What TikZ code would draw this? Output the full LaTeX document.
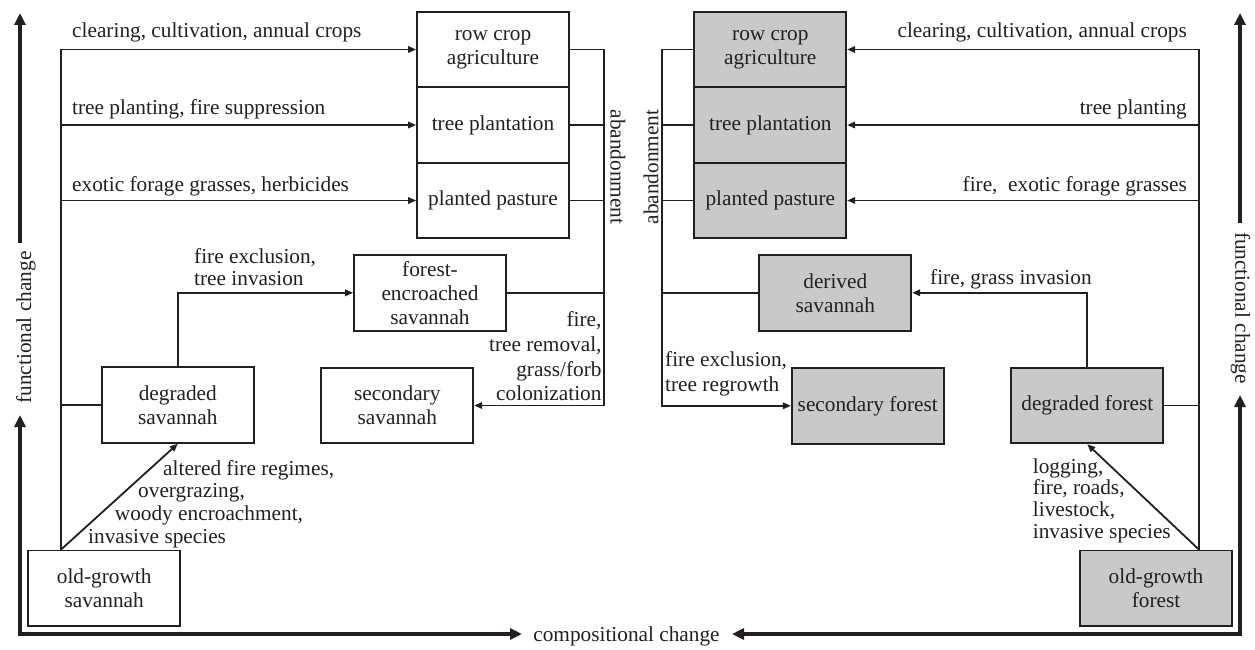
\documentclass[tikz,border=0pt]{standalone}
\usepackage{fontspec}
\setmainfont{Liberation Serif}
\usetikzlibrary{arrows.meta}
\definecolor{ink}{RGB}{35,31,32}
\definecolor{boxgray}{RGB}{200,201,203}
\begin{document}
\begin{tikzpicture}[x=1pt,y=-1pt,
  every node/.style={text=ink},
  font=\fontsize{21.3pt}{24pt}\selectfont,
  box/.style={draw=ink, line width=1.8pt, minimum width=152pt, minimum height=75.6pt, inner sep=0pt, align=center},
  gbox/.style={box, fill=boxgray},
  conn/.style={draw=ink, line width=1.8pt, line join=miter},
  arr/.style={conn, -{Triangle[length=8pt,width=6.5pt]}},
  axis/.style={draw=ink, line width=3.2pt, line join=miter},
  bigtip/.style={-{Triangle[length=12pt,width=11pt]}},
  lbl/.style={inner sep=0pt},
]
\useasboundingbox (0,0) rectangle (1255,650);

% ---- left boxes
\node[box] (rca) at (493,49.5) {row crop\\agriculture};
\node[box] (tp)  at (493,125) {tree plantation};
\node[box] (pp)  at (493,200.5) {planted pasture};
\node[box] (fes) at (430,292.8) {\fontsize{21.3pt}{25pt}\selectfont forest-\\encroached\\savannah};
\node[box] (ss)  at (397.3,405.5) {secondary\\savannah};
\node[box] (ds)  at (177.8,405) {degraded\\savannah};
\node[box] (ogs) at (104.2,588.3) {old-growth\\savannah};

% ---- right boxes
\node[gbox] (rca2) at (770.3,49.5) {row crop\\agriculture};
\node[gbox] (tp2)  at (770.3,125) {tree plantation};
\node[gbox] (pp2)  at (770.3,200.5) {planted pasture};
\node[gbox] (dsav) at (835.3,292.8) {derived\\savannah};
\node[gbox] (sf)   at (867.8,405.8) {secondary forest};
\node[gbox] (df)   at (1087.3,405.5) {degraded forest};
\node[gbox] (ogf)  at (1156,588.3) {old-growth\\forest};

\coordinate (L) at (61,0);
\coordinate (R) at (604,0);
\coordinate (L2) at (662,0);
\coordinate (R2) at (1199,0);

% ---- left connectors
\draw[conn] (ogs.north -| L) -- (rca.west -| L);
\draw[arr] (rca.west -| L) -- (rca.west);
\draw[arr] (tp.west -| L) -- (tp.west);
\draw[arr] (pp.west -| L) -- (pp.west);
\draw[conn] (ds.west -| L) -- (ds.west);
\draw[arr] (ogs.north -| L) -- (ds.south);
\draw[arr] (ds.north) |- (fes.west);
\draw[arr] (rca.east) -- (rca.east -| R) -- (R |- ss.east) -- (ss.east);
\draw[conn] (tp.east) -- (tp.east -| R);
\draw[conn] (pp.east) -- (pp.east -| R);
\draw[conn] (fes.east) -- (fes.east -| R);

% ---- right connectors
\draw[conn] (ogf.north -| R2) -- (rca2.east -| R2);
\draw[arr] (rca2.east -| R2) -- (rca2.east);
\draw[arr] (tp2.east -| R2) -- (tp2.east);
\draw[arr] (pp2.east -| R2) -- (pp2.east);
\draw[conn] (df.east) -- (df.east -| R2);
\draw[arr] (ogf.north -| R2) -- (df.south);
\draw[arr] (df.north) |- (dsav.east);
\draw[arr] (rca2.west) -- (rca2.west -| L2) -- (L2 |- sf.west) -- (sf.west);
\draw[conn] (tp2.west) -- (tp2.west -| L2);
\draw[conn] (pp2.west) -- (pp2.west -| L2);
\draw[conn] (dsav.west) -- (dsav.west -| L2);

% ---- labels left
\node[lbl, anchor=base west] (la1) at (72,38) {clearing, cultivation, annual crops};
\node[lbl, anchor=base west] (la2) at (72,114) {tree planting, fire suppression};
\node[lbl, anchor=base west] (la3) at (72,191) {exotic forage grasses, herbicides};
\node[lbl, anchor=north west, align=left, font=\fontsize{21.3pt}{22pt}\selectfont] (la4) at (194,248.5) {fire exclusion,\\tree invasion};
\node[lbl, anchor=north east, align=right, font=\fontsize{21.3pt}{24.6pt}\selectfont] (la5) at (601.7,311.7) {fire,\\tree removal,\\grass/forb\\colonization};
\node[lbl, anchor=north west, align=left, font=\fontsize{21.3pt}{22.7pt}\selectfont] (la6) at (88,460) {\hspace*{75pt}altered fire regimes,\\\hspace*{50pt}overgrazing,\\\hspace*{26.7pt}woody encroachment,\\invasive species};
\node[lbl, anchor=center, rotate=-90] (ab1) at (618,167) {abandonment};

% ---- labels right
\node[lbl, anchor=base east] (ra1) at (1187,38) {clearing, cultivation, annual crops};
\node[lbl, anchor=base east] (ra2) at (1187,114) {tree planting};
\node[lbl, anchor=base east] (ra3) at (1187,191) {fire,~ exotic forage grasses};
\node[lbl, anchor=base west] (ra4) at (930,284) {fire, grass invasion};
\node[lbl, anchor=north west, align=left, font=\fontsize{21.3pt}{24.5pt}\selectfont] (ra5) at (665,351.7) {fire exclusion,\\tree regrowth};
\node[lbl, anchor=north west, align=left, font=\fontsize{21.3pt}{21.7pt}\selectfont] (ra6) at (1032.7,458.3) {logging,\\fire, roads,\\livestock,\\invasive species};
\node[lbl, anchor=center, rotate=90] (ab2) at (651,167) {abandonment};

% ---- axes
\node[lbl, rotate=90] (fcL) at (26,327.5) {functional change};
\node[lbl, rotate=-90] (fcR) at (1240.5,308) {functional change};
\node[lbl, anchor=base] (cc) at (626.5,641.5) {compositional change};

\coordinate (BL) at (20,634);
\coordinate (BR) at (1240,634);
\coordinate (TL) at (20,13);
\coordinate (TR) at (1240,13);
\coordinate (aL1) at (20,415);
\coordinate (aL2) at (20,243);
\coordinate (aR1) at (1240,395);
\coordinate (aR2) at (1240,223);
\coordinate (aB1) at (522,634);
\coordinate (aB2) at (732,634);
\draw[axis, {Triangle[length=12pt,width=11pt]}-{Triangle[length=12pt,width=11pt]}] (aL1) -- (BL) -- (aB1);
\draw[axis, bigtip] (aL2) -- (TL);
\draw[axis, {Triangle[length=12pt,width=11pt]}-{Triangle[length=12pt,width=11pt]}] (aR1) -- (BR) -- (aB2);
\draw[axis, bigtip] (aR2) -- (TR);
\end{tikzpicture}
\end{document}
